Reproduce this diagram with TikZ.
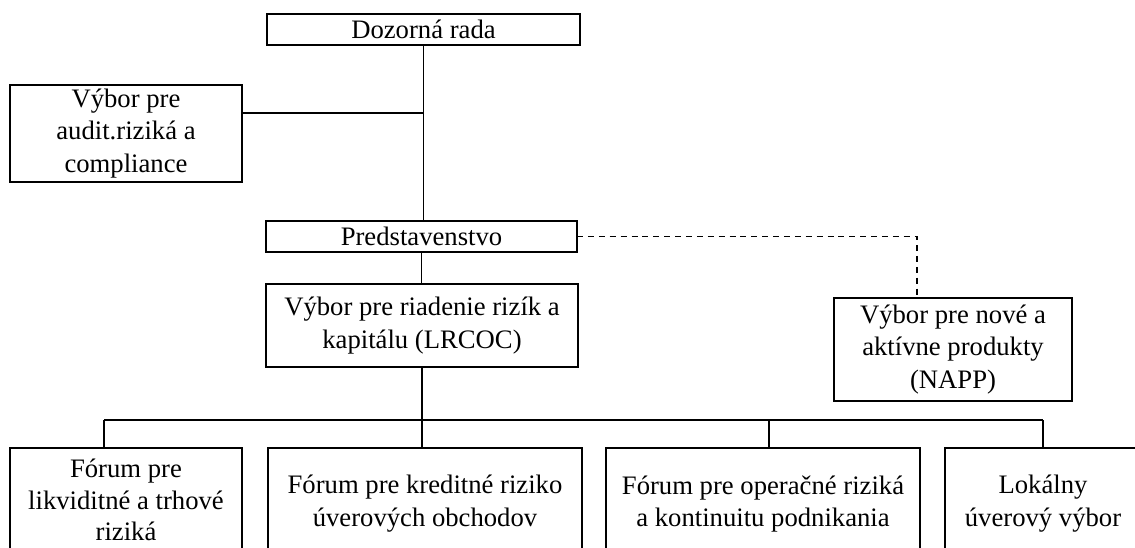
\documentclass[tikz,border=0pt]{standalone}
\usepackage{fontspec}
\setmainfont{Liberation Serif}

\tikzset{
 box/.style={draw,rectangle,line width=1.1pt,align=center,inner sep=0pt,outer sep=0pt,
  font=\fontsize{12}{14.8}\selectfont},
 thinbox/.style={box,line width=0.55pt},
 link/.style={line width=0.75pt},
 dashlink/.style={link,dash pattern=on 2.7pt off 2.2pt},
}

\begin{document}
\begin{tikzpicture}[x=0.45pt,y=-0.45pt]
\useasboundingbox (0,0) rectangle (1135,547);
\clip (0,0) rectangle (1135,547);

%top
\node[box,minimum width=140.85pt,minimum height=13.95pt] (doz) at (423.5,29.5) {Dozorná rada};
\node[box,minimum width=104.4pt,minimum height=43.65pt] (audit) at (126,133.5) {Výbor pre\\audit.riziká a\\compliance};
\node[box,minimum width=140pt,minimum height=14pt] (pred) at (421.5,236.5) {Predstavenstvo};

%committees
\node[box,minimum width=140.4pt,minimum height=37.35pt] (lrcoc) at (422,325.5) {Výbor pre riadenie rizík a\\kapitálu (LRCOC)};
\node[thinbox,minimum width=107.1pt,minimum height=46.35pt] (napp) at (953,349.5) {Výbor pre nové a\\aktívne produkty\\(NAPP)};

%fora
\node[box,minimum width=104.4pt,minimum height=46.8pt,font=\fontsize{12}{14.3}\selectfont] (likv) at (126,500) {Fórum pre\\likviditné a trhové\\riziká};
\node[box,minimum width=141.3pt,minimum height=50.4pt] (kred) at (425,504) {Fórum pre kreditné riziko\\úverových obchodov};
\node[box,minimum width=141.3pt,minimum height=50.4pt] (oper) at (763,504) {Fórum pre operačné riziká\\a kontinuitu podnikania};
\node[box,minimum width=88.2pt,minimum height=50.4pt] (lok) at (1043,504) {Lokálny\\úverový výbor};

%links
\coordinate (aud) at ([yshift=-12.6pt]audit.north east);
\coordinate (busL) at (104,420);
\coordinate (busR) at (1043,420);
\coordinate (nap) at ([xshift=-16.2pt]napp.north);

\draw[link] (doz.south) -- (doz.south |- pred.north);
\draw[link] (aud) -- (aud -| doz.south);
\draw[link] (pred.south) -- (pred.south |- lrcoc.north);
\draw[link] (lrcoc.south) -- (lrcoc.south |- kred.north);
\draw[link] (busL) -- (busR);
\draw[link] (busL) -- (busL |- likv.north);
\draw[link] ([xshift=2.7pt]oper.north) -- ([xshift=2.7pt]oper.north |- busL);
\draw[link] (busR) -- (lok.north);
\draw[dashlink] (pred.east) -| (nap);

\end{tikzpicture}
\end{document}
